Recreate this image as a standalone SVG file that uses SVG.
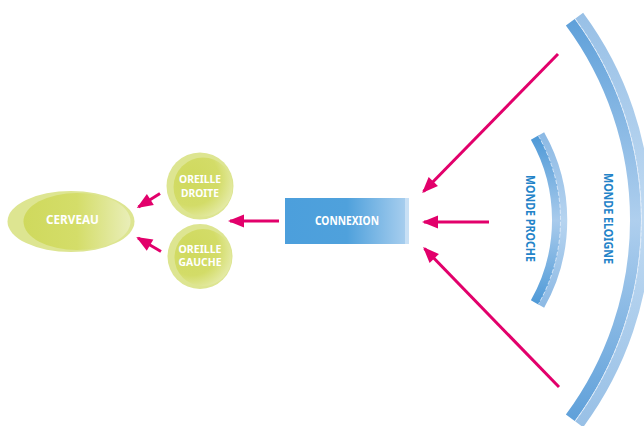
<svg xmlns="http://www.w3.org/2000/svg" width="644" height="426" viewBox="0 0 644 426">
  <defs>
    <style>
      .lbl { font-family: "Noto Sans", "Open Sans", sans-serif; font-weight: bold; font-size: 12px; fill: #ffffff; text-anchor: middle; }
      .ear { font-size: 10.5px; }
      .zone { font-family: "Noto Sans", "Open Sans", sans-serif; font-weight: bold; font-size: 12px; fill: #2383c8; text-anchor: middle; }
      .link { stroke: #e2006b; stroke-width: 3; fill: none; marker-end: url(#head); }
      .ring-out { fill: #dde591; }
    </style>
    <marker id="head" markerUnits="userSpaceOnUse" markerWidth="16" markerHeight="13" refX="14" refY="6.5" orient="auto" overflow="visible">
      <path d="M0,0 L16,6.5 L0,13 z" fill="#e2006b"/>
    </marker>
    <radialGradient id="greenIn" cx="0.3" cy="0.35" r="0.85">
      <stop offset="0" stop-color="#cfd95d"/>
      <stop offset="0.55" stop-color="#d3dc68"/>
      <stop offset="1" stop-color="#ebf0bd"/>
    </radialGradient>
    <linearGradient id="brainIn" x1="0" y1="0" x2="1" y2="0">
      <stop offset="0" stop-color="#cfd95d"/>
      <stop offset="0.5" stop-color="#d4dd69"/>
      <stop offset="1" stop-color="#e9eeb8"/>
    </linearGradient>
    <linearGradient id="boxFill" x1="0" y1="0" x2="1" y2="0">
      <stop offset="0" stop-color="#4c9fdc"/>
      <stop offset="0.5" stop-color="#4fa1dc"/>
      <stop offset="1" stop-color="#acd0ef"/>
    </linearGradient>
    <!-- arc bands: darker at the ends, lighter around the horizontal axis -->
    <linearGradient id="farIn" gradientUnits="userSpaceOnUse" x1="0" y1="14" x2="0" y2="426">
      <stop offset="0" stop-color="#5d9fd9"/>
      <stop offset="0.5" stop-color="#afcfee"/>
      <stop offset="1" stop-color="#5d9fd9"/>
    </linearGradient>
    <linearGradient id="farOut" gradientUnits="userSpaceOnUse" x1="0" y1="14" x2="0" y2="426">
      <stop offset="0" stop-color="#98c0e6"/>
      <stop offset="0.5" stop-color="#c0daf2"/>
      <stop offset="1" stop-color="#98c0e6"/>
    </linearGradient>
    <linearGradient id="nearIn" gradientUnits="userSpaceOnUse" x1="0" y1="133" x2="0" y2="308">
      <stop offset="0" stop-color="#4a97d6"/>
      <stop offset="0.5" stop-color="#a9cbec"/>
      <stop offset="1" stop-color="#4a97d6"/>
    </linearGradient>
    <linearGradient id="nearOut" gradientUnits="userSpaceOnUse" x1="0" y1="133" x2="0" y2="308">
      <stop offset="0" stop-color="#8cb9e4"/>
      <stop offset="0.5" stop-color="#b6d4f0"/>
      <stop offset="1" stop-color="#8cb9e4"/>
    </linearGradient>
  </defs>

  <rect width="644" height="426" fill="#ffffff"/>

  <!-- far world arc -->
  <g id="monde-eloigne">
    <path d="M570.3,22.2 A332.5,332.5 0 0 1 570.3,417.8" stroke="url(#farIn)" stroke-width="11" fill="none"/>
    <path d="M579.1,15.7 A343.5,343.5 0 0 1 579.1,424.3" stroke="url(#farOut)" stroke-width="10" fill="none"/>
    <path d="M575.1,18.7 A338.5,338.5 0 0 1 575.1,421.3" stroke="#e3eefa" stroke-width="0.8" stroke-dasharray="4 2" fill="none"/>
    <text class="zone" transform="translate(604,218.5) rotate(90)" textLength="91" lengthAdjust="spacingAndGlyphs">MONDE ELOIGNE</text>
  </g>

  <!-- near world arc -->
  <g id="monde-proche">
    <path d="M534.8,137.5 A167.5,167.5 0 0 1 534.8,302.5" stroke="url(#nearIn)" stroke-width="9" fill="none"/>
    <path d="M541.3,133.8 A175,175 0 0 1 541.3,306.2" stroke="url(#nearOut)" stroke-width="6.5" fill="none"/>
    <path d="M538.3,135.6 A171.5,171.5 0 0 1 538.3,304.4" stroke="#e3eefa" stroke-width="0.8" stroke-dasharray="4 2" fill="none"/>
    <text class="zone" transform="translate(526,218.5) rotate(90)" textLength="87" lengthAdjust="spacingAndGlyphs">MONDE PROCHE</text>
  </g>

  <!-- connection box -->
  <g id="connexion">
    <rect x="285" y="198" width="124" height="46" fill="url(#boxFill)"/>
    <rect x="405" y="198" width="4" height="46" fill="#c8e0f5"/>
    <text class="lbl" x="347" y="225.3" textLength="64" lengthAdjust="spacingAndGlyphs">CONNEXION</text>
  </g>

  <!-- right ear -->
  <g id="oreille-droite">
    <circle class="ring-out" cx="200" cy="186" r="33.5"/>
    <circle cx="203" cy="187" r="29.5" fill="url(#greenIn)"/>
    <text class="lbl ear" x="200" y="183" textLength="42" lengthAdjust="spacingAndGlyphs">OREILLE</text>
    <text class="lbl ear" x="200" y="197" textLength="38" lengthAdjust="spacingAndGlyphs">DROITE</text>
  </g>

  <!-- left ear -->
  <g id="oreille-gauche">
    <circle class="ring-out" cx="200" cy="256.5" r="32.5"/>
    <circle cx="203" cy="257.5" r="28.5" fill="url(#greenIn)"/>
    <text class="lbl ear" x="200" y="252.5" textLength="43" lengthAdjust="spacingAndGlyphs">OREILLE</text>
    <text class="lbl ear" x="200" y="266" textLength="43" lengthAdjust="spacingAndGlyphs">GAUCHE</text>
  </g>

  <!-- brain -->
  <g id="cerveau">
    <ellipse class="ring-out" cx="71" cy="221.5" rx="63.5" ry="30.5"/>
    <ellipse cx="77" cy="221.5" rx="53.5" ry="28.5" fill="url(#brainIn)"/>
    <text class="lbl" x="72.5" y="224.3" textLength="53" lengthAdjust="spacingAndGlyphs">CERVEAU</text>
  </g>

  <!-- connectors -->
  <g id="connectors">
    <line class="link" x1="558" y1="54" x2="423.5" y2="191.5"/>
    <line class="link" x1="489" y1="222" x2="424" y2="222"/>
    <line class="link" x1="559" y1="387" x2="424.5" y2="248.5"/>
    <line class="link" x1="279" y1="221" x2="230" y2="221"/>
    <line class="link" x1="160" y1="193.5" x2="138.5" y2="207"/>
    <line class="link" x1="161" y1="251.5" x2="138" y2="238"/>
  </g>
</svg>
